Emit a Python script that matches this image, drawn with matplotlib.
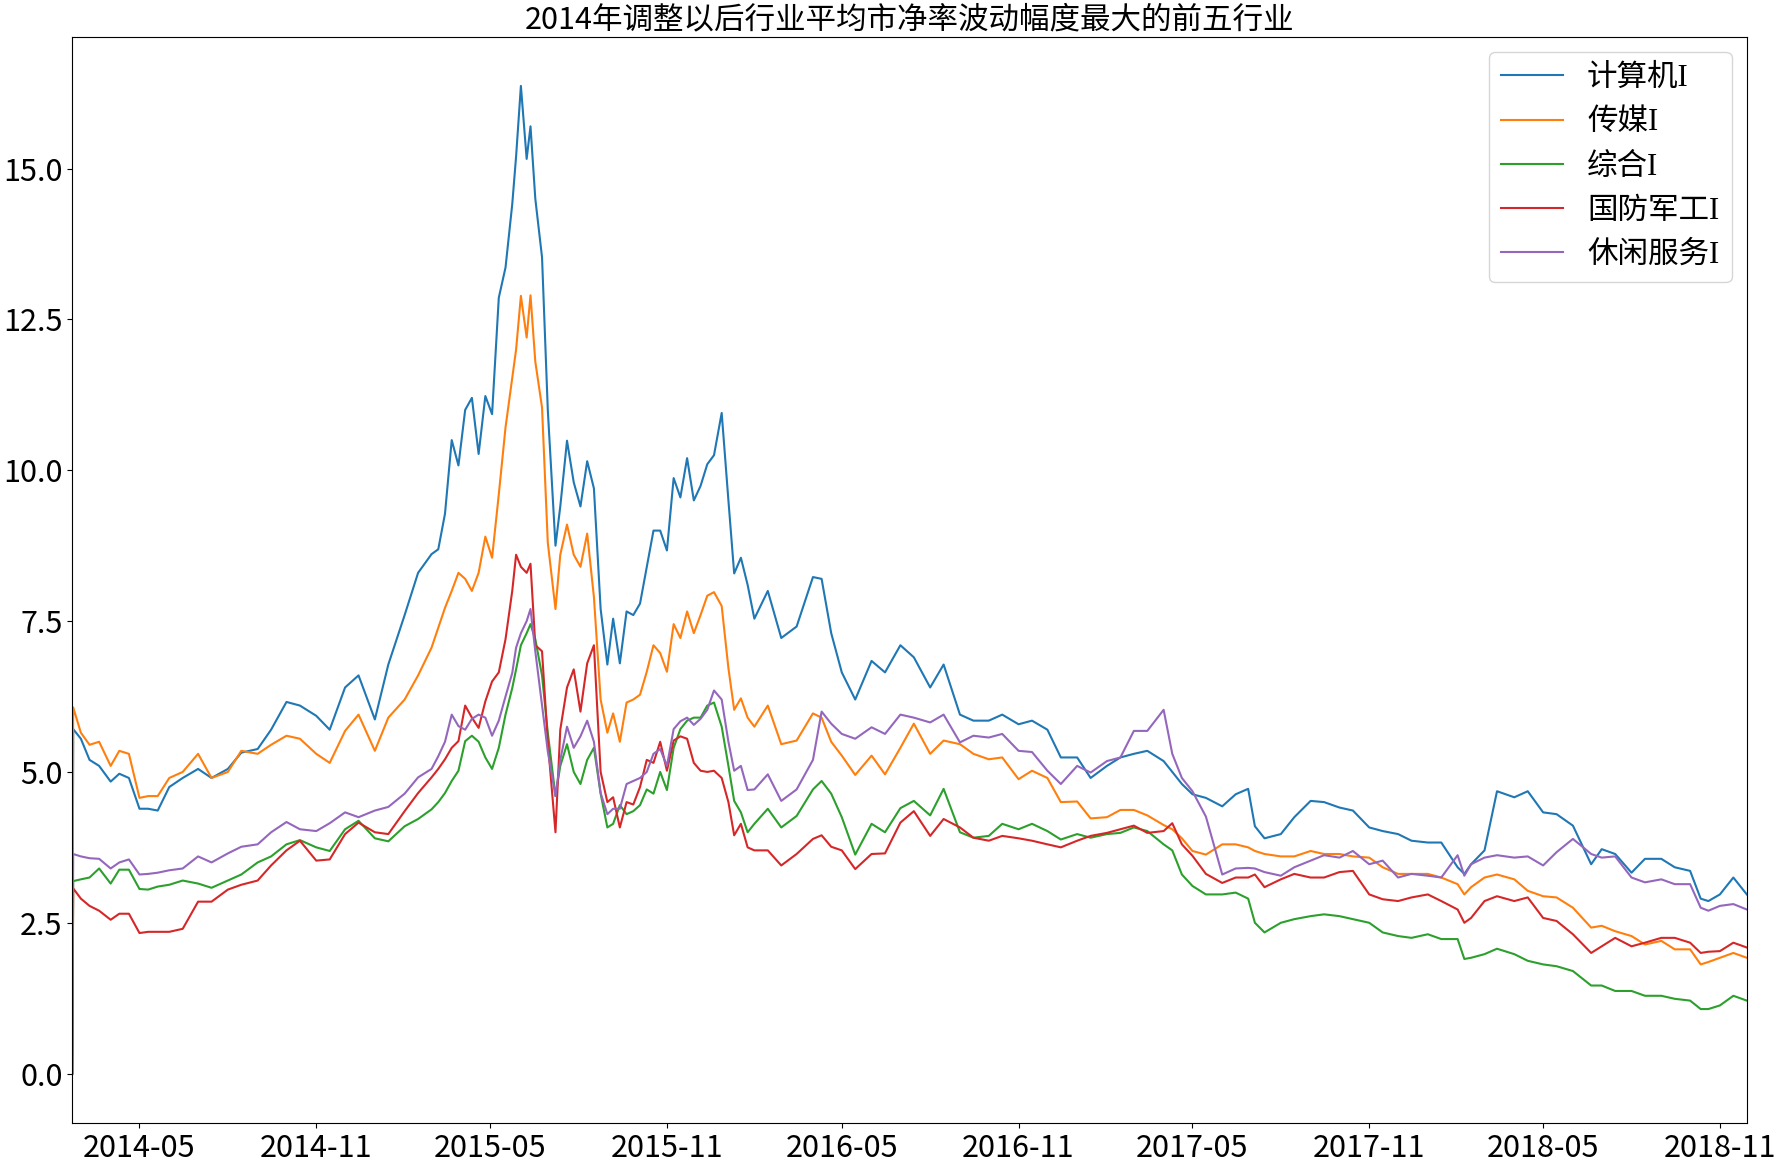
import matplotlib
matplotlib.use('Agg')
import matplotlib.pyplot as plt
import matplotlib.dates as mdates
import pandas as pd

plt.rcParams['font.family'] = ['Noto Sans CJK SC', 'DejaVu Sans']

# 日期（读图估计的采样点）
dates = pd.to_datetime([
    '2014-02-20',
    '2014-02-21',
    '2014-03-01', '2014-03-10', '2014-03-20', '2014-04-01', '2014-04-10', '2014-04-20',
    '2014-05-01', '2014-05-10', '2014-05-20', '2014-06-01', '2014-06-15', '2014-07-01', '2014-07-15',
    '2014-08-01', '2014-08-15', '2014-09-01', '2014-09-15', '2014-10-01', '2014-10-15',
    '2014-11-01', '2014-11-15', '2014-12-01', '2014-12-15', '2015-01-01', '2015-01-15', '2015-02-01', '2015-02-15',
    '2015-03-01', '2015-03-08', '2015-03-15', '2015-03-22', '2015-03-29', '2015-04-05', '2015-04-12', '2015-04-19', '2015-04-26',
    '2015-05-03', '2015-05-10', '2015-05-17', '2015-05-24', '2015-05-28', '2015-06-02', '2015-06-08', '2015-06-12', '2015-06-17', '2015-06-24',
    '2015-06-30', '2015-07-08', '2015-07-13', '2015-07-20', '2015-07-27', '2015-08-03', '2015-08-10', '2015-08-17', '2015-08-24', '2015-08-31',
    '2015-09-06', '2015-09-13', '2015-09-20', '2015-09-27', '2015-10-04', '2015-10-11', '2015-10-18', '2015-10-25',
    '2015-11-01', '2015-11-08', '2015-11-15', '2015-11-22', '2015-11-29', '2015-12-06', '2015-12-13', '2015-12-20', '2015-12-28',
    '2016-01-04', '2016-01-10', '2016-01-17', '2016-01-24', '2016-01-31', '2016-02-14', '2016-02-28',
    '2016-03-15', '2016-04-01', '2016-04-10', '2016-04-20', '2016-05-01', '2016-05-15', '2016-06-01', '2016-06-15', '2016-07-01', '2016-07-15',
    '2016-08-01', '2016-08-15', '2016-09-01', '2016-09-15', '2016-10-01', '2016-10-15', '2016-11-01', '2016-11-15', '2016-12-01', '2016-12-15',
    '2017-01-01', '2017-01-15', '2017-02-01', '2017-02-15', '2017-03-01', '2017-03-15', '2017-04-01', '2017-04-10', '2017-04-20', '2017-05-01', '2017-05-15',
    '2017-06-01', '2017-06-15', '2017-06-28', '2017-07-05', '2017-07-15', '2017-08-01', '2017-08-15', '2017-09-01', '2017-09-15', '2017-10-01', '2017-10-15',
    '2017-11-01', '2017-11-15', '2017-12-01', '2017-12-15', '2018-01-01', '2018-01-15', '2018-02-01', '2018-02-08', '2018-02-15', '2018-03-01', '2018-03-14',
    '2018-04-01', '2018-04-15', '2018-05-01', '2018-05-15', '2018-06-01', '2018-06-20', '2018-07-01', '2018-07-15', '2018-08-01', '2018-08-15',
    '2018-09-01', '2018-09-15', '2018-10-01', '2018-10-12', '2018-10-20', '2018-11-01', '2018-11-15', '2018-11-29',
])

# 计算机I
computer = [
    0,
    5.71,
    5.55, 5.2, 5.1, 4.84, 4.97, 4.9,
    4.39, 4.39, 4.36, 4.75, 4.9, 5.05, 4.9,
    5.05, 5.32, 5.38, 5.7, 6.16, 6.1,
    5.93, 5.7, 6.4, 6.6, 5.87, 6.78, 7.6, 8.3,
    8.61, 8.69, 9.28, 10.5, 10.08, 11.0, 11.2, 10.27, 11.23,
    10.93, 12.86, 13.36, 14.41, 15.2, 16.37, 15.16, 15.7, 14.5, 13.53,
    11.0, 8.75, 9.4, 10.49, 9.8, 9.4, 10.15, 9.7, 7.7, 6.78,
    7.54, 6.8, 7.66, 7.6, 7.79, 8.4, 9.0, 9.0,
    8.67, 9.87, 9.55, 10.2, 9.5, 9.74, 10.1, 10.25, 10.95,
    9.5, 8.29, 8.55, 8.1, 7.54, 8.0, 7.22,
    7.41, 8.23, 8.2, 7.3, 6.65, 6.2, 6.84, 6.65, 7.1, 6.9,
    6.4, 6.78, 5.95, 5.85, 5.85, 5.95, 5.79, 5.85, 5.7, 5.24,
    5.24, 4.9, 5.1, 5.24, 5.3, 5.35, 5.18, 5.0, 4.8, 4.63, 4.57,
    4.43, 4.63, 4.72, 4.1, 3.9, 3.97, 4.25, 4.52, 4.5, 4.41, 4.36,
    4.08, 4.02, 3.97, 3.86, 3.83, 3.83, 3.42, 3.31, 3.47, 3.7, 4.68,
    4.58, 4.68, 4.33, 4.3, 4.11, 3.47, 3.72, 3.64, 3.33, 3.56,
    3.56, 3.42, 3.36, 2.9, 2.86, 2.97, 3.25, 2.97,
]

# 传媒I
media = [
    0,
    6.07,
    5.65, 5.45, 5.5, 5.1, 5.35, 5.3,
    4.57, 4.6, 4.6, 4.9, 5.0, 5.3, 4.9,
    5.0, 5.35, 5.3, 5.45, 5.6, 5.55,
    5.3, 5.15, 5.68, 5.95, 5.35, 5.9, 6.2, 6.6,
    7.06, 7.39, 7.72, 8.0, 8.3, 8.2, 8.0, 8.3, 8.9,
    8.55, 9.6, 10.71, 11.53, 12.0, 12.89, 12.2, 12.9, 11.8, 11.04,
    8.8, 7.7, 8.6, 9.1, 8.6, 8.4, 8.95, 7.9, 6.2, 5.65,
    5.97, 5.5, 6.15, 6.2, 6.28, 6.66, 7.1, 6.97,
    6.66, 7.45, 7.22, 7.66, 7.3, 7.6, 7.92, 7.98, 7.75,
    6.72, 6.03, 6.22, 5.9, 5.75, 6.1, 5.46,
    5.52, 5.97, 5.9, 5.5, 5.27, 4.95, 5.27, 4.96, 5.4, 5.8,
    5.3, 5.52, 5.46, 5.3, 5.21, 5.24, 4.88, 5.02, 4.9, 4.5,
    4.51, 4.23, 4.25, 4.37, 4.37, 4.28, 4.12, 4.05, 3.9, 3.69, 3.63,
    3.8, 3.8, 3.75, 3.69, 3.64, 3.6, 3.6, 3.69, 3.64, 3.64, 3.6,
    3.58, 3.42, 3.31, 3.31, 3.31, 3.25, 3.14, 2.97, 3.09, 3.25, 3.3,
    3.22, 3.03, 2.94, 2.92, 2.75, 2.42, 2.45, 2.36, 2.28, 2.14,
    2.2, 2.06, 2.06, 1.81, 1.85, 1.92, 2.0, 1.92,
]

# 综合I
composite = [
    0,
    3.19,
    3.22, 3.25, 3.4, 3.15, 3.38, 3.38,
    3.06, 3.05, 3.1, 3.13, 3.2, 3.15, 3.08,
    3.2, 3.3, 3.5, 3.6, 3.8, 3.87,
    3.75, 3.69, 4.05, 4.19, 3.9, 3.85, 4.1, 4.22,
    4.38, 4.5, 4.65, 4.85, 5.02, 5.51, 5.6, 5.5, 5.24,
    5.05, 5.4, 5.95, 6.39, 6.7, 7.1, 7.3, 7.45, 7.2, 6.6,
    5.65, 4.6, 5.1, 5.46, 5.0, 4.8, 5.2, 5.4, 4.64, 4.08,
    4.14, 4.45, 4.3, 4.35, 4.45, 4.71, 4.64, 5.0,
    4.7, 5.4, 5.71, 5.85, 5.9, 5.9, 6.1, 6.15, 5.75,
    5.1, 4.52, 4.33, 4.0, 4.14, 4.39, 4.08,
    4.27, 4.71, 4.85, 4.64, 4.25, 3.63, 4.14, 4.0, 4.4, 4.52,
    4.28, 4.72, 4.0, 3.91, 3.94, 4.14, 4.05, 4.14, 4.02, 3.88,
    3.97, 3.91, 3.97, 3.99, 4.08, 4.02, 3.8, 3.7, 3.3, 3.11, 2.97,
    2.97, 3.0, 2.9, 2.5, 2.34, 2.5, 2.56, 2.61, 2.64, 2.61, 2.56,
    2.5, 2.34, 2.28, 2.25, 2.31, 2.23, 2.23, 1.9, 1.92, 1.98, 2.07,
    1.98, 1.87, 1.81, 1.78, 1.7, 1.46, 1.46, 1.37, 1.37, 1.29,
    1.29, 1.24, 1.21, 1.07, 1.07, 1.13, 1.29, 1.21,
]

# 国防军工I
defense = [
    0,
    3.07,
    2.9, 2.78, 2.7, 2.55, 2.65, 2.65,
    2.33, 2.35, 2.35, 2.35, 2.4, 2.85, 2.85,
    3.05, 3.13, 3.2, 3.45, 3.7, 3.86,
    3.53, 3.55, 3.97, 4.16, 4.0, 3.97, 4.35, 4.65,
    4.91, 5.05, 5.21, 5.4, 5.51, 6.1, 5.9, 5.73, 6.17,
    6.5, 6.65, 7.2, 8.0, 8.6, 8.4, 8.3, 8.45, 7.1, 7.0,
    5.5, 4.0, 5.7, 6.4, 6.7, 6.0, 6.8, 7.1, 5.0, 4.5,
    4.58, 4.08, 4.5, 4.46, 4.75, 5.2, 5.15, 5.5,
    5.02, 5.52, 5.59, 5.55, 5.15, 5.02, 5.0, 5.02, 4.9,
    4.5, 3.95, 4.14, 3.75, 3.7, 3.7, 3.45,
    3.64, 3.89, 3.95, 3.76, 3.7, 3.39, 3.64, 3.65, 4.16, 4.35,
    3.94, 4.22, 4.08, 3.91, 3.86, 3.94, 3.9, 3.86, 3.8, 3.75,
    3.86, 3.94, 3.99, 4.05, 4.11, 3.99, 4.02, 4.15, 3.8, 3.61, 3.31,
    3.16, 3.25, 3.25, 3.3, 3.09, 3.22, 3.31, 3.25, 3.25, 3.34, 3.36,
    2.97, 2.89, 2.86, 2.92, 2.97, 2.86, 2.72, 2.5, 2.58, 2.86, 2.94,
    2.86, 2.92, 2.58, 2.53, 2.31, 2.0, 2.11, 2.25, 2.11, 2.17,
    2.25, 2.25, 2.17, 2.0, 2.02, 2.03, 2.17, 2.09,
]

# 休闲服务I
leisure = [
    0,
    3.64,
    3.6, 3.57, 3.56, 3.4, 3.5, 3.55,
    3.3, 3.31, 3.33, 3.37, 3.4, 3.6, 3.5,
    3.65, 3.76, 3.8, 4.0, 4.17, 4.05,
    4.02, 4.15, 4.33, 4.25, 4.36, 4.42, 4.64, 4.91,
    5.05, 5.26, 5.5, 5.95, 5.76, 5.7, 5.88, 5.95, 5.9,
    5.6, 5.85, 6.25, 6.64, 7.06, 7.3, 7.5, 7.7, 7.0, 6.1,
    5.34, 4.6, 5.2, 5.75, 5.4, 5.59, 5.85, 5.5, 4.65, 4.3,
    4.39, 4.39, 4.8, 4.85, 4.9, 5.0, 5.3, 5.38,
    5.1, 5.71, 5.84, 5.9, 5.78, 5.88, 6.03, 6.35, 6.2,
    5.5, 5.02, 5.1, 4.7, 4.71, 4.96, 4.52,
    4.71, 5.2, 6.0, 5.8, 5.63, 5.55, 5.74, 5.63, 5.95, 5.9,
    5.82, 5.95, 5.49, 5.6, 5.57, 5.63, 5.35, 5.33, 5.02, 4.8,
    5.1, 4.99, 5.18, 5.24, 5.68, 5.68, 6.03, 5.3, 4.9, 4.68, 4.26,
    3.3, 3.4, 3.41, 3.4, 3.34, 3.28, 3.42, 3.53, 3.62, 3.58, 3.69,
    3.47, 3.53, 3.25, 3.31, 3.28, 3.25, 3.62, 3.28, 3.47, 3.58, 3.62,
    3.58, 3.6, 3.45, 3.67, 3.89, 3.64, 3.58, 3.6, 3.25, 3.17,
    3.22, 3.14, 3.14, 2.75, 2.7, 2.78, 2.81, 2.72,
]

names = ['计算机I', '传媒I', '综合I', '国防军工I', '休闲服务I']
series = [computer, media, composite, defense, leisure]

fig = plt.figure(figsize=(17.79, 11.67), dpi=100)
ax = fig.add_axes([0.0406, 0.0377, 0.9413, 0.931])

for vals, name in zip(series, names):
    ax.plot(dates, vals, label=name, linewidth=1.5)

ax.set_xlim(dates[0], dates[-1])
ax.xaxis.set_major_locator(mdates.MonthLocator(bymonth=[5, 11]))
ax.xaxis.set_major_formatter(mdates.DateFormatter('%Y-%m'))
ax.tick_params(labelsize=22)

ax.set_title('2014年调整以后行业平均市净率波动幅度最大的前五行业', fontsize=22)
ax.legend(loc='upper right',
          prop={'family': ['Liberation Serif', 'Noto Sans CJK SC'], 'size': 22})

fig.savefig('out.png', dpi=100)
